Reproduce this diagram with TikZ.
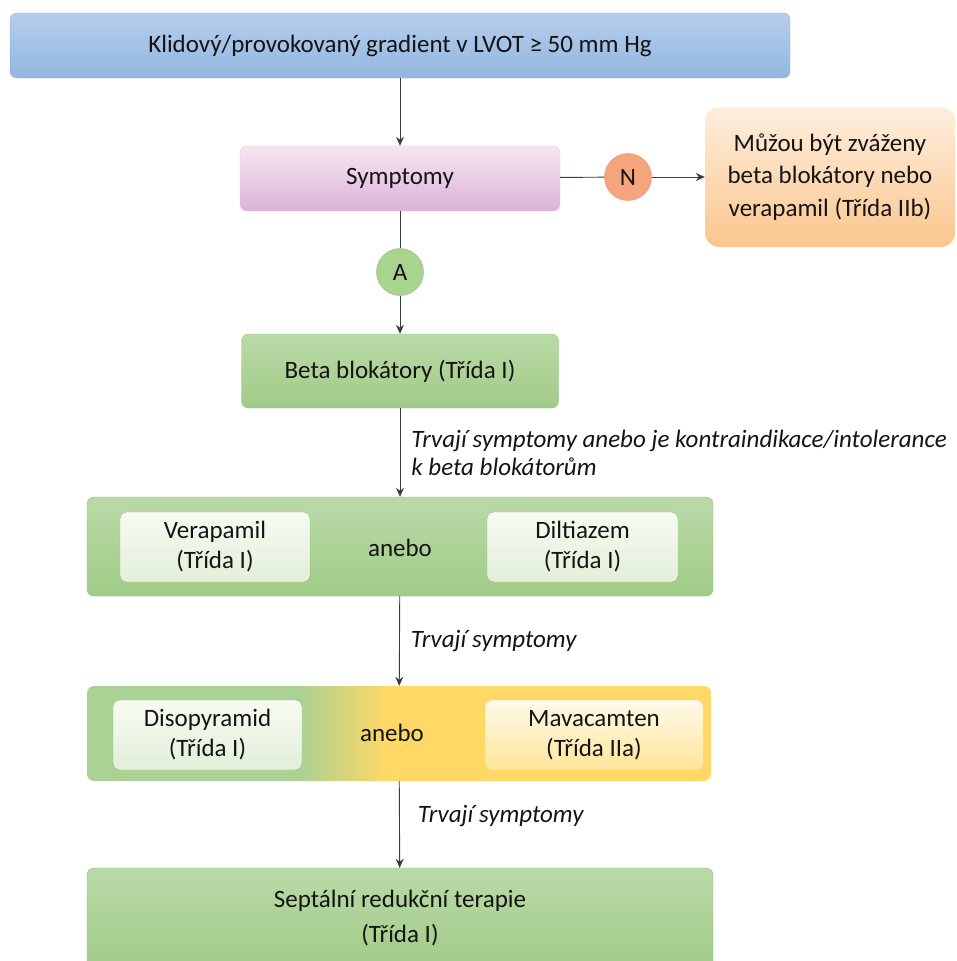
\documentclass[tikz,border=0pt]{standalone}
\usepackage{fontspec}
\setmainfont{Carlito}
\usepackage{xcolor}
\usepackage{tikz}
\usetikzlibrary{shapes.geometric, arrows, arrows.meta}
\usetikzlibrary{positioning,calc}

\definecolor{blueTop}{HTML}{B6CEEC}
\definecolor{blueBot}{HTML}{93B6E0}
\definecolor{blueDraw}{HTML}{8DAED8}
\definecolor{pinkTop}{HTML}{F5E6F3}
\definecolor{pinkBot}{HTML}{DDB2D7}
\definecolor{pinkDraw}{HTML}{E2C3DE}
\definecolor{peachTop}{HTML}{FEEEDD}
\definecolor{peachBot}{HTML}{FBC68F}
\definecolor{greenTop}{HTML}{BADAA8}
\definecolor{greenBot}{HTML}{A1CB87}
\definecolor{greenMid}{HTML}{ABD194}
\definecolor{greenDraw}{HTML}{8FC175}
\definecolor{innerTop}{HTML}{F7FBF3}
\definecolor{innerBot}{HTML}{E2EFD8}
\definecolor{yellowBox}{HTML}{FFD865}
\definecolor{yinTop}{HTML}{FFFAEA}
\definecolor{yinBot}{HTML}{FFE59A}
\definecolor{yinDraw}{HTML}{F8D77A}
\definecolor{nFill}{HTML}{F5A47E}
\definecolor{nDraw}{HTML}{EE8A62}
\definecolor{aFill}{HTML}{A9D490}
\definecolor{aDraw}{HTML}{8CC071}
\definecolor{lineGray}{HTML}{3C3C3C}
\definecolor{txt}{HTML}{141414}

\pgfdeclarehorizontalshading{grnylw}{100bp}{color(0bp)=(greenMid); color(42bp)=(greenMid); color(49bp)=(yellowBox); color(100bp)=(yellowBox)}

\tikzstyle{box} = [rectangle, rounded corners=7pt, text=txt, align=center, font=\fontsize{25}{30}\selectfont]
\tikzstyle{bluebox} = [box, draw=blueDraw, top color=blueTop, bottom color=blueBot]
\tikzstyle{pinkbox} = [box, draw=pinkDraw, top color=pinkTop, bottom color=pinkBot]
\tikzstyle{peachbox} = [box, rounded corners=14pt, top color=peachTop, bottom color=peachBot]
\tikzstyle{greenbox} = [box, draw=greenDraw, top color=greenTop, bottom color=greenBot]
\tikzstyle{innerbox} = [box, draw=greenDraw, top color=innerTop, bottom color=innerBot]
\tikzstyle{yinbox} = [box, draw=yinDraw, top color=yinTop, bottom color=yinBot]
\tikzstyle{letter} = [circle, minimum size=47pt, inner sep=0pt, text=txt, font=\fontsize{25}{28}\selectfont]
\tikzstyle{note} = [right=11pt, align=left, inner sep=0pt, text=txt, font=\fontsize{25}{28}\selectfont\itshape]
\tikzstyle{arrow} = [-{Stealth[length=9pt,width=8pt]}, draw=lineGray, line width=0.9pt]
\tikzstyle{plain} = [-, draw=lineGray, line width=0.9pt]

\begin{document}
\begin{tikzpicture}[x=1pt, y=-1pt]
\useasboundingbox (0,0) rectangle (957,961);
\clip (0,0) rectangle (957,961);

% boxes
\node[bluebox, minimum width=780pt, minimum height=65pt] (gradient) at (400,45.5) {Klidový/provokovaný gradient v LVOT ≥ 50 mm Hg};
\node[pinkbox, minimum width=320pt, minimum height=65pt] (symptomy) at (400,178.5) {Symptomy};
\node[peachbox, minimum width=250pt, minimum height=140pt, font=\fontsize{25}{32.5}\selectfont] (zvazit) at (830,177) {Můžou být zváženy\\beta blokátory nebo\\verapamil (Třída IIb)};
\node[letter, fill=nFill, draw=nDraw] (ne) at (628,177) {N};
\node[letter, fill=aFill, draw=aDraw] (ano) at (400,272) {A};
\node[greenbox, minimum width=317pt, minimum height=74pt] (beta) at (400,371) {Beta blokátory (Třída I)};

\node[greenbox, minimum width=626pt, minimum height=99pt] (druha) at (400,546.5) {};
\node[innerbox, minimum width=190pt, minimum height=70pt] (verapamil) at (215,547) {Verapamil\\(Třída I)};
\node[innerbox, minimum width=191pt, minimum height=70pt] (diltiazem) at (582.5,547) {Diltiazem\\(Třída I)};
\node[box] (anebo1) at (400,548) {anebo};

\node[box, shading=grnylw, minimum width=624pt, minimum height=95pt] (treti) at (399,733.5) {};
\node[innerbox, minimum width=189pt, minimum height=70pt] (disopyramid) at (207.5,735) {Disopyramid\\(Třída I)};
\node[yinbox, minimum width=218pt, minimum height=70pt] (mavacamten) at (594,735) {Mavacamten\\(Třída IIa)};
\node[box] (anebo2) at (392,733) {anebo};

\node[greenbox, minimum width=626pt, minimum height=100pt, font=\fontsize{25}{35}\selectfont] (septalni) at (400,918) {Septální redukční terapie\\(Třída I)};

% connectors
\draw[arrow] (gradient) -- (symptomy);
\draw[plain] (symptomy) -- (ne);
\draw[arrow] (ne) -- (zvazit);
\draw[plain] (symptomy) -- (ano);
\draw[arrow] (ano) -- (beta);
\draw[arrow] (beta) -- node[note] {Trvají symptomy anebo je kontraindikace/intolerance\\k beta blokátorům} (druha);
\draw[arrow] (druha) -- node[note] {Trvají symptomy} (treti);
\draw[arrow] (treti) -- node[note, right=18pt, yshift=8pt] {Trvají symptomy} (septalni);
\end{tikzpicture}
\end{document}
